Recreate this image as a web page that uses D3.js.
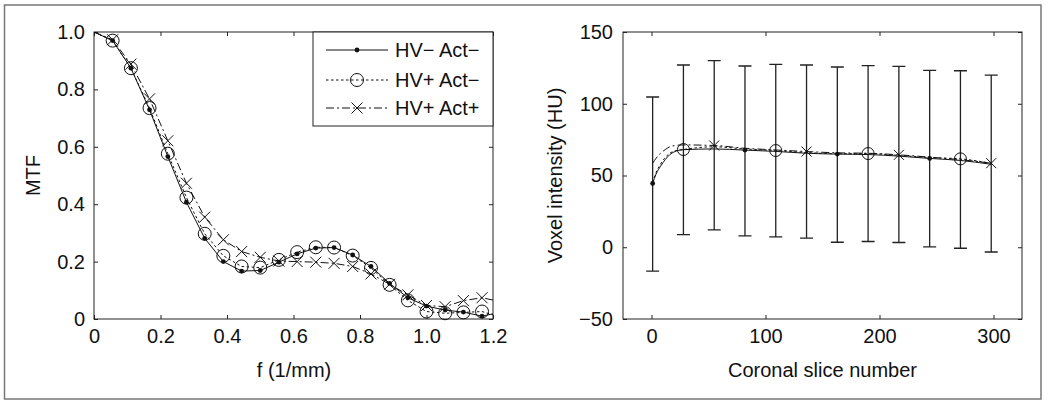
<!DOCTYPE html>
<html>
<head>
<meta charset="utf-8">
<script src="https://cdn.jsdelivr.net/npm/d3@7"></script>
<style>
  html, body { margin: 0; padding: 0; background: #fff; }
  text { font-family: "Liberation Sans", Arial, Helvetica, sans-serif; fill: #111; }
</style>
</head>
<body>
<svg id="chart" width="1050" height="407"></svg>
<script>
// ---------- Data: left panel (MTF) ----------
const freq = [0, 0.056, 0.111, 0.167, 0.222, 0.278, 0.333, 0.389, 0.444, 0.5, 0.556, 0.611,
              0.667, 0.722, 0.778, 0.833, 0.889, 0.944, 1.0, 1.056, 1.111, 1.167, 1.2];
const mtfHVmActm = [1.0, 0.97, 0.874, 0.729, 0.566, 0.407, 0.281, 0.2, 0.167, 0.169, 0.198, 0.227,
                    0.247, 0.249, 0.223, 0.183, 0.124, 0.074, 0.045, 0.031, 0.024, 0.01, 0.018];
const mtfHVpActm = [1.0, 0.97, 0.874, 0.735, 0.576, 0.423, 0.297, 0.22, 0.183, 0.179, 0.206, 0.233,
                    0.25, 0.249, 0.221, 0.178, 0.119, 0.065, 0.026, 0.02, 0.023, 0.026, 0.014];
const mtfHVpActp = [1.0, 0.973, 0.888, 0.767, 0.621, 0.473, 0.355, 0.276, 0.235, 0.215, 0.202, 0.2,
                    0.198, 0.194, 0.183, 0.157, 0.121, 0.084, 0.047, 0.043, 0.064, 0.074, 0.066];
const legendLabels = ["HV\u2212 Act\u2212", "HV+ Act\u2212", "HV+ Act+"];
const mtfTicks = [0, 0.2, 0.4, 0.6, 0.8, 1.0];
const freqTicks = [0, 0.2, 0.4, 0.6, 0.8, 1.0, 1.2];

// ---------- Data: right panel (voxel intensity) ----------
const sliceX = [1, 4, 8, 12, 16, 20, 28, 55, 82, 109, 136, 163, 190, 217, 244, 271, 298];
const voxHVmActm = [44.5, 51, 56.5, 61, 64.5, 66.5, 68, 68.5, 67.7, 66.8, 65.5, 64.9, 64.6, 63.5, 61.9, 60.5, 57.8];
const voxHVpActm = [45, 52, 58, 62.5, 65.5, 67, 68.1, 70, 68.5, 67.4, 66, 65.2, 65.3, 64, 62.5, 61.6, 58.5];
const voxHVpActp = [58.5, 62, 65.5, 68, 70, 70.8, 71.3, 70.9, 69, 67.8, 66.7, 65.8, 65.5, 64.4, 62.8, 61, 58.6];
const markersHVmActm = [1, 82, 163, 244];
const markersHVpActm = [28, 109, 190, 271];
const markersHVpActp = [55, 136, 217, 298];
const errX    = [1, 28, 55, 82, 109, 136, 163, 190, 217, 244, 271, 298];
const errHigh = [104.7, 127, 130, 126.3, 127.4, 127, 125.6, 126.5, 126, 123.3, 123, 120];
const errLow  = [-16.7, 8.8, 12.1, 7.9, 7.2, 6.3, 3.5, 4, 3.3, 0.2, -0.7, -3.3];
const voxTicks = [-50, 0, 50, 100, 150];
const sliceTicks = [0, 100, 200, 300];

// ---------- Drawing ----------
const svg = d3.select("#chart");
svg.append("rect").attr("x", 0).attr("y", 0).attr("width", 1050).attr("height", 407).attr("fill", "#fff");
svg.append("rect").attr("x", 4.5).attr("y", 5).attr("width", 1036.5).attr("height", 394)
   .attr("fill", "none").attr("stroke", "#777").attr("stroke-width", 1.5);

const FS = 20;
const AX = "#222";

function frameAxes(g, x, y, xTicks, yTicks, xFmt, yFmt, xPad, yPad) {
  const [x0, x1] = x.range(); const [y0, y1] = y.range(); // y0 bottom, y1 top
  const tick = 4;
  const bottom = g.append("g").attr("transform", `translate(0,${y0})`)
    .call(d3.axisBottom(x).tickValues(xTicks).tickFormat(xFmt).tickSize(-tick).tickPadding(xPad));
  const top = g.append("g").attr("transform", `translate(0,${y1})`)
    .call(d3.axisTop(x).tickValues(xTicks).tickFormat("").tickSize(-tick));
  const left = g.append("g").attr("transform", `translate(${x0},0)`)
    .call(d3.axisLeft(y).tickValues(yTicks).tickFormat(yFmt).tickSize(-tick).tickPadding(yPad));
  const right = g.append("g").attr("transform", `translate(${x1},0)`)
    .call(d3.axisRight(y).tickValues(yTicks).tickFormat("").tickSize(-tick));
  [bottom, top, left, right].forEach(a => {
    a.select(".domain").remove();
    a.selectAll("line").attr("stroke", AX).attr("stroke-width", 1);
    a.selectAll("text").attr("font-size", FS).attr("font-family", null).attr("fill", "#111");
  });
  g.append("rect").attr("x", x0).attr("y", y1).attr("width", x1 - x0).attr("height", y0 - y1)
    .attr("fill", "none").attr("stroke", AX).attr("stroke-width", 1);
}

function drawMarker(g, type, cx, cy, size) {
  if (type === "dot") {
    g.append("circle").attr("cx", cx).attr("cy", cy).attr("r", size.dot).attr("fill", "#111");
  } else if (type === "circle") {
    g.append("circle").attr("cx", cx).attr("cy", cy).attr("r", size.circle)
      .attr("fill", "none").attr("stroke", "#111").attr("stroke-width", 1);
  } else {
    const s = size.cross;
    g.append("path").attr("d", `M${cx - s},${cy - s}L${cx + s},${cy + s}M${cx - s},${cy + s}L${cx + s},${cy - s}`)
      .attr("stroke", "#111").attr("stroke-width", 1).attr("fill", "none");
  }
}

const styles = [
  { dash: null, marker: "dot" },
  { dash: "2.5,2.5", marker: "circle" },
  { dash: "8,3,2,3", marker: "cross" }
];

// ----- Left panel -----
{
  const x = d3.scaleLinear().domain([0, 1.2]).range([94, 493]);
  const y = d3.scaleLinear().domain([0, 1]).range([319, 32]);
  const g = svg.append("g");
  g.append("clipPath").attr("id", "clipL").append("rect")
    .attr("x", 94).attr("y", 32).attr("width", 399).attr("height", 287);
  const fmt = d => d === 0 ? "0" : d3.format(".1f")(d);
  frameAxes(g, x, y, freqTicks, mtfTicks, fmt, fmt, 10, 9);

  const series = [mtfHVmActm, mtfHVpActm, mtfHVpActp];
  const line = d3.line().x((d, i) => x(freq[i])).y(d => y(d));
  const size = { dot: 2.4, circle: 6.5, cross: 5.5 };
  series.forEach((s, k) => {
    g.append("path").attr("d", line(s)).attr("clip-path", "url(#clipL)")
      .attr("fill", "none").attr("stroke", "#111").attr("stroke-width", 1)
      .attr("stroke-dasharray", styles[k].dash);
    s.forEach((v, i) => {
      if (i > 0 && i < s.length - 1) drawMarker(g, styles[k].marker, x(freq[i]), y(v), size);
    });
  });

  // legend
  const lg = g.append("g");
  lg.append("rect").attr("x", 313).attr("y", 32).attr("width", 180).attr("height", 94)
    .attr("fill", "#fff").attr("stroke", AX).attr("stroke-width", 1);
  const rowsY = [50, 80, 108];
  legendLabels.forEach((lab, k) => {
    lg.append("line").attr("x1", 326).attr("x2", 388).attr("y1", rowsY[k]).attr("y2", rowsY[k])
      .attr("stroke", "#111").attr("stroke-width", 1).attr("stroke-dasharray", styles[k].dash);
    drawMarker(lg, styles[k].marker, 357, rowsY[k], size);
    lg.append("text").attr("x", 395).attr("y", rowsY[k]).attr("dy", "0.35em")
      .attr("font-size", FS).text(lab);
  });

  g.append("text").attr("x", 294).attr("y", 377).attr("text-anchor", "middle")
    .attr("font-size", FS).text("f (1/mm)");
  g.append("text").attr("transform", "translate(40,175.5) rotate(-90)").attr("text-anchor", "middle")
    .attr("font-size", FS).text("MTF");
}

// ----- Right panel -----
{
  const x = d3.scaleLinear().domain([-25, 325]).range([623, 1022]);
  const y = d3.scaleLinear().domain([-50, 150]).range([319, 32]);
  const g = svg.append("g");
  frameAxes(g, x, y, sliceTicks, voxTicks, d3.format("d"), d3.format("d"), 10, 10);

  // error bars
  const cap = 6.5;
  errX.forEach((xv, i) => {
    const cx = x(xv);
    g.append("path")
      .attr("d", `M${cx},${y(errLow[i])}L${cx},${y(errHigh[i])}` +
                 `M${cx - cap},${y(errLow[i])}L${cx + cap},${y(errLow[i])}` +
                 `M${cx - cap},${y(errHigh[i])}L${cx + cap},${y(errHigh[i])}`)
      .attr("stroke", "#222").attr("stroke-width", 1.3).attr("fill", "none");
  });

  const series = [voxHVmActm, voxHVpActm, voxHVpActp];
  const marks = [markersHVmActm, markersHVpActm, markersHVpActp];
  const line = d3.line().x((d, i) => x(sliceX[i])).y(d => y(d)).curve(d3.curveMonotoneX);
  const size = { dot: 2.4, circle: 6, cross: 5 };
  series.forEach((s, k) => {
    g.append("path").attr("d", line(s))
      .attr("fill", "none").attr("stroke", "#111").attr("stroke-width", 1)
      .attr("stroke-dasharray", styles[k].dash);
    marks[k].forEach(mx => {
      const i = sliceX.indexOf(mx);
      drawMarker(g, styles[k].marker, x(mx), y(s[i]), size);
    });
  });

  g.append("text").attr("x", 822.5).attr("y", 377).attr("text-anchor", "middle")
    .attr("font-size", FS).text("Coronal slice number");
  g.append("text").attr("transform", "translate(562,175.5) rotate(-90)").attr("text-anchor", "middle")
    .attr("font-size", FS).text("Voxel intensity (HU)");
}
</script>
</body>
</html>
